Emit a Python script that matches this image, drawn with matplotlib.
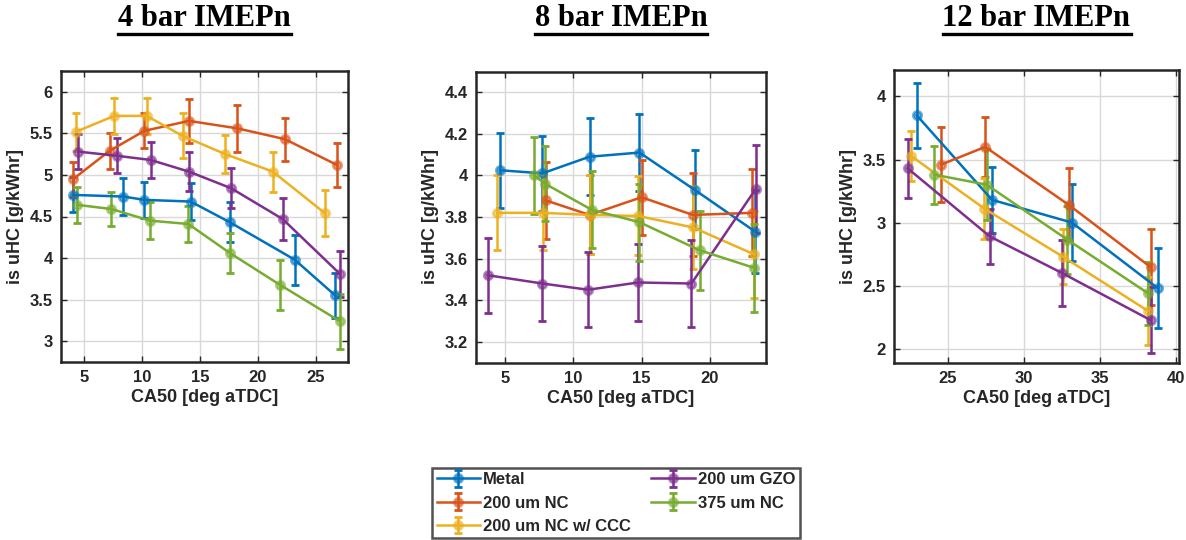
import numpy as np
import matplotlib
matplotlib.use('Agg')
import matplotlib.pyplot as plt
from matplotlib.lines import Line2D
from matplotlib.colors import to_rgba
from matplotlib.ticker import FuncFormatter

SERIES = ['Metal', '200 um NC', '200 um NC w/ CCC', '200 um GZO', '375 um NC']
COLORS = ['#0072BD', '#D95319', '#EDB120', '#7E2F8E', '#77AC30']
TITLES = ['4 bar IMEPn', '8 bar IMEPn', '12 bar IMEPn']

# 4 bar IMEPn: one list per series, same order as SERIES
ca50_4bar = [
    [4.0, 8.4, 10.2, 14.2, 17.6, 23.2, 26.7],
    [4.05, 7.2, 10.2, 14.05, 18.25, 22.35, 26.85],
    [4.3, 7.6, 10.4, 13.5, 17.2, 21.3, 25.8],
    [4.5, 7.85, 10.75, 14.05, 17.7, 22.15, 27.1],
    [4.4, 7.35, 10.7, 14.0, 17.6, 21.9, 27.1],
]
uhc_4bar = [
    [4.76, 4.74, 4.70, 4.68, 4.43, 3.98, 3.55],
    [4.95, 5.29, 5.53, 5.65, 5.56, 5.43, 5.12],
    [5.52, 5.71, 5.71, 5.47, 5.25, 5.04, 4.54],
    [5.28, 5.23, 5.18, 5.04, 4.84, 4.47, 3.81],
    [4.64, 4.59, 4.45, 4.41, 4.06, 3.68, 3.24],
]
err_4bar = [
    [0.21, 0.22, 0.22, 0.22, 0.24, 0.30, 0.27],
    [0.21, 0.22, 0.21, 0.26, 0.28, 0.26, 0.26],
    [0.23, 0.22, 0.22, 0.27, 0.23, 0.24, 0.28],
    [0.21, 0.21, 0.22, 0.23, 0.24, 0.25, 0.28],
    [0.22, 0.21, 0.22, 0.22, 0.24, 0.30, 0.33],
]

# 8 bar IMEPn
ca50_8bar = [
    [4.65, 7.75, 11.2, 14.85, 18.9, 23.3],
    [8.0, 11.2, 15.0, 18.75, 23.1],
    [4.45, 7.8, 11.2, 14.75, 18.75, 23.25],
    [3.75, 7.75, 11.1, 14.75, 18.65, 23.35],
    [7.15, 7.95, 11.35, 14.85, 19.25, 23.25],
]
uhc_8bar = [
    [4.025, 4.01, 4.09, 4.11, 3.93, 3.73],
    [3.88, 3.81, 3.895, 3.81, 3.82],
    [3.82, 3.82, 3.81, 3.805, 3.75, 3.62],
    [3.52, 3.48, 3.45, 3.485, 3.48, 3.935],
    [4.0, 3.96, 3.835, 3.775, 3.64, 3.555],
]
err_8bar = [
    [0.18, 0.18, 0.185, 0.185, 0.19, 0.20],
    [0.185, 0.19, 0.18, 0.20, 0.21],
    [0.18, 0.18, 0.19, 0.19, 0.20, 0.21],
    [0.18, 0.18, 0.18, 0.185, 0.21, 0.21],
    [0.185, 0.18, 0.185, 0.185, 0.19, 0.21],
]

# 12 bar IMEPn
ca50_12bar = [
    [22.95, 27.9, 33.15, 38.8],
    [24.55, 27.45, 32.95, 38.35],
    [22.55, 27.4, 32.55, 38.15],
    [22.35, 27.75, 32.5, 38.35],
    [24.1, 27.55, 32.85, 38.15],
]
uhc_12bar = [
    [3.85, 3.18, 3.0, 2.48],
    [3.46, 3.60, 3.14, 2.645],
    [3.53, 3.11, 2.73, 2.30],
    [3.43, 2.89, 2.60, 2.225],
    [3.38, 3.30, 2.865, 2.44],
]
err_12bar = [
    [0.255, 0.26, 0.305, 0.32],
    [0.30, 0.24, 0.29, 0.30],
    [0.20, 0.24, 0.22, 0.27],
    [0.235, 0.22, 0.26, 0.26],
    [0.23, 0.28, 0.27, 0.25],
]

xticks = [[5, 10, 15, 20, 25], [5, 10, 15, 20], [25, 30, 35, 40]]
yticks = [[3, 3.5, 4, 4.5, 5, 5.5, 6],
          [3.2, 3.4, 3.6, 3.8, 4.0, 4.2, 4.4],
          [2, 2.5, 3, 3.5, 4]]
xlims = [(3, 27.8), (2.9, 24.1), (21.45, 40.2)]
ylims = [(2.75, 6.25), (3.1, 4.5), (1.89, 4.21)]

TXT = '#262626'
plt.rcParams['font.family'] = ['Liberation Sans', 'DejaVu Sans']
plt.rcParams['font.weight'] = 'bold'
plt.rcParams['axes.labelweight'] = 'bold'

fig = plt.figure(figsize=(11.86, 5.40), dpi=100)
W, H = 1186, 540
boxes = [(61, 71, 348, 362), (476, 71.5, 766, 362.5), (894, 70, 1179, 362.5)]

panels = [(ca50_4bar, uhc_4bar, err_4bar),
          (ca50_8bar, uhc_8bar, err_8bar),
          (ca50_12bar, uhc_12bar, err_12bar)]

fmt = FuncFormatter(lambda v, p: '%g' % v)
axes = []
for i, (xs, ys, es) in enumerate(panels):
    l, t, r, b = boxes[i]
    ax = fig.add_axes([l / W, 1 - b / H, (r - l) / W, (b - t) / H])
    axes.append(ax)
    for k in range(len(SERIES)):
        ax.errorbar(xs[k], ys[k], yerr=es[k], color=COLORS[k], lw=1.8,
                    marker='o', ms=6, mfc=to_rgba(COLORS[k], 0.55), mew=2.0,
                    capsize=3.2, capthick=1.8, elinewidth=1.8, label=SERIES[k])
    ax.set_xlim(*xlims[i])
    ax.set_ylim(*ylims[i])
    ax.set_xticks(xticks[i])
    ax.set_yticks(yticks[i])
    ax.xaxis.set_major_formatter(fmt)
    ax.yaxis.set_major_formatter(fmt)
    ax.grid(True, color='#d8d8d8', lw=1.0)
    ax.set_axisbelow(True)
    ax.tick_params(direction='in', top=True, right=True, length=4, width=1,
                   colors=TXT, labelsize=12, pad=6)
    for s in ax.spines.values():
        s.set_linewidth(1.8)
        s.set_color(TXT)
    ax.set_xlabel('CA50 [deg aTDC]', fontsize=13, color=TXT, labelpad=3,
                  fontweight='bold')
    ax.set_ylabel('is uHC [g/kWhr]', fontsize=13, color=TXT, labelpad=4,
                  fontweight='bold')

# panel titles, underlined
titles = []
for i in range(3):
    l, t, r, b = boxes[i]
    txt = fig.text((l + r) / 2 / W, 1 - 26.5 / H, TITLES[i], ha='center',
                   va='baseline', fontsize=22, fontweight='bold',
                   family='Liberation Serif', color='black')
    titles.append(txt)

fig.canvas.draw()
rend = fig.canvas.get_renderer()
for txt in titles:
    bb = txt.get_window_extent(rend)
    x0, x1 = bb.x0 / W, bb.x1 / W
    yl = 1 - 34 / H
    fig.add_artist(Line2D([x0, x1], [yl, yl], transform=fig.transFigure,
                          color='black', lw=2.4))

handles, labels = axes[0].get_legend_handles_labels()
leg = fig.legend(handles, labels, ncol=2, loc='center',
                 bbox_to_anchor=(616 / W, 1 - 503 / H), fontsize=12,
                 frameon=True, fancybox=False, edgecolor=TXT,
                 handlelength=2.6, handletextpad=0.2, labelspacing=0.5,
                 columnspacing=1.2, borderpad=0.25, borderaxespad=0)
leg.get_frame().set_linewidth(1.8)
for t in leg.get_texts():
    t.set_color(TXT)

fig.savefig('out.png', dpi=100)
